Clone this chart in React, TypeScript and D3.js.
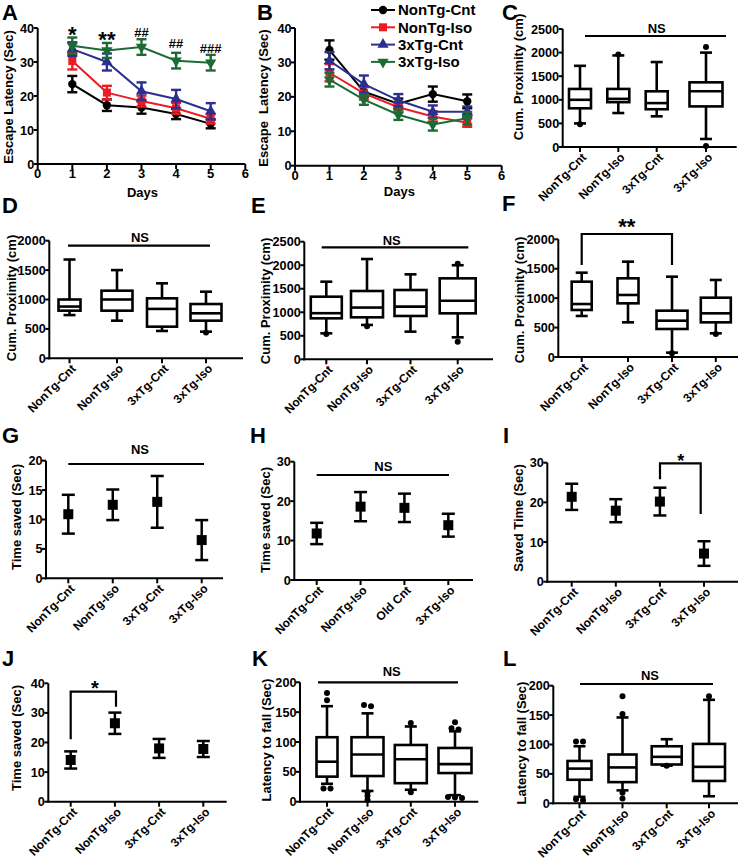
import React from "react";
import * as d3 from "d3";

const FONT = "'Liberation Sans', Arial, Helvetica, sans-serif";

// ---------------- shared categories ----------------
const groups = ["NonTg-Cnt", "NonTg-Iso", "3xTg-Cnt", "3xTg-Iso"];
const groupsH = ["NonTg-Cnt", "NonTg-Iso", "Old Cnt", "3xTg-Iso"];
const days = [1, 2, 3, 4, 5];
const dayTicks = [0, 1, 2, 3, 4, 5, 6];
const latencyTicks = [0, 10, 20, 30, 40];

// ---------------- Panel A (escape latency) ----------------
const aNonTgCnt = [23.5, 17.3, 16.6, 14.7, 11.8];
const aNonTgCntErr = [2.4, 1.7, 1.8, 1.5, 1.3];
const aNonTgIso = [30.3, 21.0, 18.5, 16.4, 13.3];
const aNonTgIsoErr = [2.5, 2.0, 1.6, 1.6, 1.4];
const a3xTgCnt = [33.8, 30.0, 21.4, 19.1, 15.5];
const a3xTgCntErr = [2.0, 2.5, 2.6, 2.7, 2.4];
const a3xTgIso = [34.8, 33.4, 34.4, 30.4, 29.8];
const a3xTgIsoErr = [2.4, 2.2, 2.3, 2.3, 2.3];
const aSignif = ["*", "**", "##", "##", "###"];

// ---------------- Panel B (escape latency) ----------------
const bNonTgCnt = [33.6, 21.5, 18.0, 20.8, 18.7];
const bNonTgCntErr = [2.8, 1.5, 1.5, 2.2, 2.0];
const bNonTgIso = [27.0, 21.0, 17.0, 14.3, 12.5];
const bNonTgIsoErr = [2.5, 1.8, 1.5, 1.5, 1.2];
const b3xTgCnt = [30.5, 23.7, 19.0, 15.7, 15.7];
const b3xTgCntErr = [2.5, 2.5, 1.8, 1.8, 1.5];
const b3xTgIso = [25.0, 19.2, 14.8, 12.0, 13.8];
const b3xTgIsoErr = [2.0, 1.5, 1.5, 1.8, 1.8];

// ---------------- Box plots: [low whisker, Q1, median, Q3, high whisker] ----------------
const cBoxes = [[500, 820, 1000, 1230, 1720], [720, 950, 1020, 1230, 1940], [650, 800, 930, 1180, 1800], [170, 860, 1180, 1370, 2000]];
const cOutliers = [[480], [1960], [], [2120, 20]];
const dBoxes = [[735, 810, 880, 1000, 1680], [640, 810, 1000, 1150, 1500], [465, 538, 840, 1020, 1275], [453, 640, 765, 923, 1133]];
const dOutliers = [[], [], [], [440]];
const eBoxes = [[552, 871, 980, 1331, 1650], [730, 892, 1100, 1452, 2132], [588, 921, 1119, 1473, 1806], [467, 977, 1246, 1721, 2000]];
const eOutliers = [[540], [700], [], [2030, 375]];
const fBoxes = [[697, 799, 900, 1280, 1433], [589, 912, 1054, 1337, 1620], [74, 476, 617, 787, 1365], [402, 589, 742, 1008, 1309]];
const fOutliers = [[], [], [65], [390]];
const kBoxes = [[30, 42, 67, 108, 160], [18, 43, 79, 108, 148], [20, 31, 71, 95, 126], [11, 48, 63, 90, 118]];
const kOutliers = [[182, 170, 22, 22], [162, 160, 16, 10, 3], [132, 16], [133, 123, 121, 8, 7, 6]];
const lBoxes = [[11, 40, 59, 72, 97], [22, 36, 61, 83, 146], [64, 66, 79, 97, 109], [12, 38, 62, 101, 176]];
const lOutliers = [[105, 105, 7, 5], [182, 152, 18, 8], [64], [182]];
const proxTicks2500 = [0, 500, 1000, 1500, 2000, 2500];
const proxTicks2000 = [0, 500, 1000, 1500, 2000];
const fallTicks = [0, 50, 100, 150, 200];

// ---------------- Mean ± error panels ----------------
const gMeans = [10.9, 12.5, 13.0, 6.5];
const gErrs = [3.3, 2.6, 4.4, 3.4];
const hMeans = [11.8, 18.6, 18.3, 13.9];
const hErrs = [2.7, 3.7, 3.6, 2.9];
const iMeans = [21.4, 17.9, 20.2, 7.1];
const iErrs = [3.3, 2.9, 3.5, 3.1];
const jMeans = [14.1, 26.5, 18.0, 17.8];
const jErrs = [2.9, 3.6, 3.2, 2.7];
const gTicks = [0, 5, 10, 15, 20];
const hTicks = [0, 10, 20, 30];
const jTicks = [0, 10, 20, 30, 40];

const COLORS = { black: "#000000", red: "#ec1c24", blue: "#2b2f8f", green: "#1c6b34" };
const txt = { fontFamily: FONT, fontWeight: 700 as const };

function YAxis({ x, scale, ticks }: any) {
  const [y0, y1] = scale.range();
  return (
    <g>
      <line x1={x} x2={x} y1={y0 + 1} y2={y1} stroke="#000" strokeWidth={2} />
      {ticks.map((t: number) => (
        <g key={t}>
          <line x1={x - 4} x2={x} y1={scale(t)} y2={scale(t)} stroke="#000" strokeWidth={2} />
          <text x={x - 3.5} y={scale(t)} dy="0.36em" textAnchor="end" fontSize={12.7} style={txt}>{t}</text>
        </g>
      ))}
    </g>
  );
}

function YLabel({ x, y, text, size = 13 }: any) {
  return (
    <text transform={`translate(${x},${y}) rotate(-90)`} dy="0.36em" textAnchor="middle" fontSize={size} style={{ ...txt, whiteSpace: "pre" }}>{text}</text>
  );
}

function CatXAxis({ x0, x1, y, cat, names }: any) {
  return (
    <g>
      <line x1={x0 - 1} x2={x1} y1={y} y2={y} stroke="#000" strokeWidth={2} />
      {names.map((n: string) => (
        <g key={n}>
          <line x1={cat(n)} x2={cat(n)} y1={y} y2={y + 5} stroke="#000" strokeWidth={2} />
          <text transform={`translate(${cat(n) + 4},${y + 8}) rotate(-45)`} dy="0.36em" textAnchor="end" fontSize={12} style={txt}>{n}</text>
        </g>
      ))}
    </g>
  );
}

function Letter({ x, y, c }: any) {
  return <text x={x} y={y} fontSize={22} style={txt}>{c}</text>;
}

function Marker({ shape, x, y, color }: any) {
  if (shape === "circle") return <circle cx={x} cy={y} r={4.2} fill={color} />;
  if (shape === "square") return <rect x={x - 4} y={y - 4} width={8} height={8} fill={color} />;
  const p = d3.symbol().type(d3.symbolTriangle).size(55)()!;
  return <path d={p} transform={`translate(${x},${y})${shape === "down" ? " rotate(180)" : ""}`} fill={color} />;
}

function LinePanel({ xPx, yPx, series, xLabelY }: any) {
  const x = d3.scaleLinear().domain([0, 6]).range(xPx);
  const y = d3.scaleLinear().domain([0, 40]).range(yPx);
  const line = d3.line<number>().x((_, i) => x(days[i])).y((v) => y(v));
  return (
    <g>
      {series.map((s: any) => (
        <g key={s.name}>
          <path d={line(s.values)!} fill="none" stroke={s.color} strokeWidth={2} />
          {s.values.map((v: number, i: number) => {
            const cx = x(days[i]);
            return (
              <g key={i} stroke={s.color} strokeWidth={2.4}>
                <line x1={cx} x2={cx} y1={y(v - s.errs[i])} y2={y(v + s.errs[i])} />
                <line x1={cx - 5} x2={cx + 5} y1={y(v + s.errs[i])} y2={y(v + s.errs[i])} />
                <line x1={cx - 5} x2={cx + 5} y1={y(v - s.errs[i])} y2={y(v - s.errs[i])} />
              </g>
            );
          })}
          {s.values.map((v: number, i: number) => (
            <Marker key={"m" + i} shape={s.shape} x={x(days[i])} y={y(v)} color={s.color} />
          ))}
        </g>
      ))}
      <YAxis x={xPx[0]} scale={y} ticks={latencyTicks} />
      <line x1={xPx[0] - 1} x2={xPx[1]} y1={yPx[0]} y2={yPx[0]} stroke="#000" strokeWidth={2} />
      {dayTicks.map((t) => (
        <g key={t}>
          <line x1={x(t)} x2={x(t)} y1={yPx[0]} y2={yPx[0] + 5} stroke="#000" strokeWidth={2} />
          <text x={x(t)} y={yPx[0] + 14} textAnchor="middle" fontSize={13} style={txt}>{t}</text>
        </g>
      ))}
      <text x={(xPx[0] + xPx[1]) / 2 + 1} y={xLabelY} textAnchor="middle" fontSize={13} style={txt}>Days</text>
    </g>
  );
}

function spreadOutliers(vals: number[], tol: number) {
  const sorted = [...vals].sort((a, b) => b - a);
  const clusters: number[][] = [];
  sorted.forEach((v) => {
    const last = clusters[clusters.length - 1];
    if (last && Math.abs(last[last.length - 1] - v) <= tol) last.push(v);
    else clusters.push([v]);
  });
  const out: { v: number; dx: number }[] = [];
  clusters.forEach((c) => c.forEach((v, i) => out.push({ v, dx: (i - (c.length - 1) / 2) * 7 })));
  return out;
}

function BoxPanel({ axisX, axisEnd, yPx, max, ticks, catPx, widths, boxes, outliers }: any) {
  const y = d3.scaleLinear().domain([0, max]).range(yPx);
  const cat = d3.scaleOrdinal<string, number>().domain(groups).range(catPx);
  return (
    <g>
      {boxes.map((b: number[], i: number) => {
        const cx = cat(groups[i]);
        const w = widths[i];
        return (
          <g key={i} stroke="#000" strokeWidth={2.6} fill="none">
            <line x1={cx} x2={cx} y1={y(b[0])} y2={y(b[1])} />
            <line x1={cx} x2={cx} y1={y(b[3])} y2={y(b[4])} />
            <line x1={cx - 6} x2={cx + 6} y1={y(b[0])} y2={y(b[0])} />
            <line x1={cx - 6} x2={cx + 6} y1={y(b[4])} y2={y(b[4])} />
            <rect x={cx - w / 2} y={y(b[3])} width={w} height={y(b[1]) - y(b[3])} fill="#fff" />
            <line x1={cx - w / 2} x2={cx + w / 2} y1={y(b[2])} y2={y(b[2])} />
            {spreadOutliers(outliers[i], max * 0.025).map((o, k) => (
              <circle key={k} cx={cx + o.dx} cy={y(o.v)} r={3} fill="#000" stroke="none" />
            ))}
          </g>
        );
      })}
      <YAxis x={axisX} scale={y} ticks={ticks} />
      <CatXAxis x0={axisX} x1={axisEnd} y={yPx[0]} cat={cat} names={groups} />
    </g>
  );
}

function MeanPanel({ axisX, axisEnd, yPx, max, ticks, catPx, means, errs, names }: any) {
  const y = d3.scaleLinear().domain([0, max]).range(yPx);
  const cat = d3.scalePoint<string>().domain(names).range(catPx);
  return (
    <g>
      {means.map((m: number, i: number) => {
        const cx = cat(names[i])!;
        return (
          <g key={i} stroke="#000" strokeWidth={2.5}>
            <line x1={cx} x2={cx} y1={y(m - errs[i])} y2={y(m + errs[i])} />
            <line x1={cx - 6.5} x2={cx + 6.5} y1={y(m + errs[i])} y2={y(m + errs[i])} />
            <line x1={cx - 6.5} x2={cx + 6.5} y1={y(m - errs[i])} y2={y(m - errs[i])} />
            <rect x={cx - 5} y={y(m) - 5} width={10} height={10} fill="#000" stroke="none" />
          </g>
        );
      })}
      <YAxis x={axisX} scale={y} ticks={ticks} />
      <CatXAxis x0={axisX} x1={axisEnd} y={yPx[0]} cat={(n: string) => cat(n)!} names={names} />
    </g>
  );
}

function NS({ x1, x2, y, tx, ty }: any) {
  return (
    <g>
      <line x1={x1} x2={x2} y1={y} y2={y} stroke="#000" strokeWidth={2.2} />
      <text x={tx} y={ty} textAnchor="middle" fontSize={13} style={txt}>NS</text>
    </g>
  );
}

function Bracket({ x1, x2, yTop, yL, yR, label, lx, ly, size }: any) {
  return (
    <g>
      <path d={`M${x1},${yL}V${yTop}H${x2}V${yR}`} fill="none" stroke="#000" strokeWidth={2.2} />
      <text x={lx} y={ly} textAnchor="middle" fontSize={size} style={txt}>{label}</text>
    </g>
  );
}

export default function App() {
  const aSeries = [
    { name: "NonTg-Cnt", values: aNonTgCnt, errs: aNonTgCntErr, color: COLORS.black, shape: "circle" },
    { name: "NonTg-Iso", values: aNonTgIso, errs: aNonTgIsoErr, color: COLORS.red, shape: "square" },
    { name: "3xTg-Cnt", values: a3xTgCnt, errs: a3xTgCntErr, color: COLORS.blue, shape: "up" },
    { name: "3xTg-Iso", values: a3xTgIso, errs: a3xTgIsoErr, color: COLORS.green, shape: "down" },
  ];
  const bSeries = [
    { name: "NonTg-Cnt", values: bNonTgCnt, errs: bNonTgCntErr, color: COLORS.black, shape: "circle" },
    { name: "NonTg-Iso", values: bNonTgIso, errs: bNonTgIsoErr, color: COLORS.red, shape: "square" },
    { name: "3xTg-Cnt", values: b3xTgCnt, errs: b3xTgCntErr, color: COLORS.blue, shape: "up" },
    { name: "3xTg-Iso", values: b3xTgIso, errs: b3xTgIsoErr, color: COLORS.green, shape: "down" },
  ];
  const aX = d3.scaleLinear().domain([0, 6]).range([37.7, 245.3]);
  const sigY = [42, 47, 37, 48, 53];
  const sigSize = [22, 22, 13, 13, 13];

  return (
    <svg width={740} height={859} style={{ position: "absolute", left: 0, top: 0, background: "#fff" }} fontFamily={FONT}>
      <rect width={740} height={859} fill="#fff" />
      {/* Row 1 */}
      <Letter x={2} y={20} c="A" />
      <LinePanel xPx={[37.7, 245.3]} yPx={[164, 28]} series={aSeries} xLabelY={196.5} />
      <YLabel x={8.5} y={97} text="Escape Latency (Sec)" />
      {aSignif.map((s, i) => (
        <text key={i} x={aX(days[i])} y={sigY[i]} textAnchor="middle" fontSize={sigSize[i]} style={txt}>{s}</text>
      ))}

      <Letter x={257} y={20} c="B" />
      <LinePanel xPx={[295, 501.7]} yPx={[165.7, 28]} series={bSeries} xLabelY={196} />
      <YLabel x={263.5} y={98} text="Escape  Latency (Sec)" />
      {bSeries.map((s, i) => (
        <g key={s.name}>
          <line x1={371} x2={395} y1={10 + i * 17.3} y2={10 + i * 17.3} stroke={s.color} strokeWidth={2} />
          <Marker shape={s.shape} x={383} y={10 + i * 17.3} color={s.color} />
          <text x={398} y={10 + i * 17.3} dy="0.36em" fontSize={15} style={txt}>{s.name}</text>
        </g>
      ))}

      <Letter x={502} y={20} c="C" />
      <BoxPanel axisX={562.7} axisEnd={736.7} yPx={[147, 29]} max={2500} ticks={proxTicks2500}
        catPx={[580, 618.3, 656.7, 706]} widths={[22, 22, 22, 33]} boxes={cBoxes} outliers={cOutliers} />
      <YLabel x={518} y={77} text="Cum. Proximity (cm)" />
      <NS x1={585} x2={726} y={36} tx={656.7} ty={33.3} />

      {/* Row 2 */}
      <Letter x={2} y={213} c="D" />
      <BoxPanel axisX={49.3} axisEnd={243} yPx={[358.3, 240.7]} max={2000} ticks={proxTicks2000}
        catPx={[69.5, 117, 162, 206]} widths={[22, 31, 30, 31]} boxes={dBoxes} outliers={dOutliers} />
      <YLabel x={11.5} y={298} text="Cum. Proximity (cm)" />
      <NS x1={68} x2={210} y={245.7} tx={140} ty={241.7} />

      <Letter x={251} y={213} c="E" />
      <BoxPanel axisX={304.3} axisEnd={493} yPx={[359.3, 241.7]} max={2500} ticks={proxTicks2500}
        catPx={[326.3, 367, 410.5, 457.7]} widths={[31, 32, 32, 36]} boxes={eBoxes} outliers={eOutliers} />
      <YLabel x={265.5} y={301} text="Cum. Proximity (cm)" />
      <NS x1={321.7} x2={468.3} y={247.3} tx={391.7} ty={244.5} />

      <Letter x={502} y={211} c="F" />
      <BoxPanel axisX={558.3} axisEnd={738} yPx={[357, 239.3]} max={2000} ticks={proxTicks2000}
        catPx={[581.7, 628, 672, 715.8]} widths={[20, 21, 31, 30]} boxes={fBoxes} outliers={fOutliers} />
      <YLabel x={519.5} y={300} text="Cum. Proximity (cm)" />
      <Bracket x1={581.7} x2={672} yTop={234} yL={265} yR={265} label="**" lx={626.7} ly={234} size={22} />

      {/* Row 3 */}
      <Letter x={2} y={443} c="G" />
      <MeanPanel axisX={46} axisEnd={223} yPx={[578.3, 460.7]} max={20} ticks={gTicks}
        catPx={[68.3, 201.7]} means={gMeans} errs={gErrs} names={groups} />
      <YLabel x={16.5} y={517} text="Time saved (Sec)" />
      <NS x1={68.3} x2={204} y={464} tx={140} ty={454} />

      <Letter x={250} y={443} c="H" />
      <MeanPanel axisX={294.3} axisEnd={473} yPx={[580, 461.7]} max={30} ticks={hTicks}
        catPx={[316.7, 448.3]} means={hMeans} errs={hErrs} names={groupsH} />
      <YLabel x={265.5} y={520} text="Time saved (Sec)" />
      <NS x1={316.7} x2={449} y={475} tx={383.3} ty={470.7} />

      <Letter x={503} y={443} c="I" />
      <MeanPanel axisX={547.3} axisEnd={738} yPx={[581.7, 462.7]} max={30} ticks={hTicks}
        catPx={[571.7, 704]} means={iMeans} errs={iErrs} names={groups} />
      <YLabel x={518} y={518} text="Saved Time (Sec)" />
      <Bracket x1={660} x2={700.7} yTop={463.3} yL={479.3} yR={514} label="*" lx={680.7} ly={467} size={18} />

      {/* Row 4 */}
      <Letter x={2} y={666} c="J" />
      <MeanPanel axisX={48.3} axisEnd={226.7} yPx={[801.7, 683.3]} max={40} ticks={jTicks}
        catPx={[70.7, 203.3]} means={jMeans} errs={jErrs} names={groups} />
      <YLabel x={16.5} y={738} text="Time saved (Sec)" />
      <Bracket x1={70.7} x2={116} yTop={691.7} yL={739.3} yR={706.7} label="*" lx={95} ly={695} size={20} />

      <Letter x={252} y={666} c="K" />
      <BoxPanel axisX={300} axisEnd={478.3} yPx={[801.7, 682.3]} max={200} ticks={fallTicks}
        catPx={[327, 367.5, 410.8, 455]} widths={[21, 32, 32, 33]} boxes={kBoxes} outliers={kOutliers} />
      <YLabel x={266.5} y={740} text="Latency to fall (Sec)" />
      <NS x1={318} x2={458} y={682.3} tx={391.7} ty={676} />

      <Letter x={503} y={666} c="L" />
      <BoxPanel axisX={553.3} axisEnd={738} yPx={[803.3, 685.7]} max={200} ticks={fallTicks}
        catPx={[579.5, 622.5, 666.7, 709]} widths={[24, 28, 30, 32]} boxes={lBoxes} outliers={lOutliers} />
      <YLabel x={521.5} y={743} text="Latency to fall (Sec)" />
      <NS x1={580} x2={713} y={684} tx={650} ty={680} />
    </svg>
  );
}
